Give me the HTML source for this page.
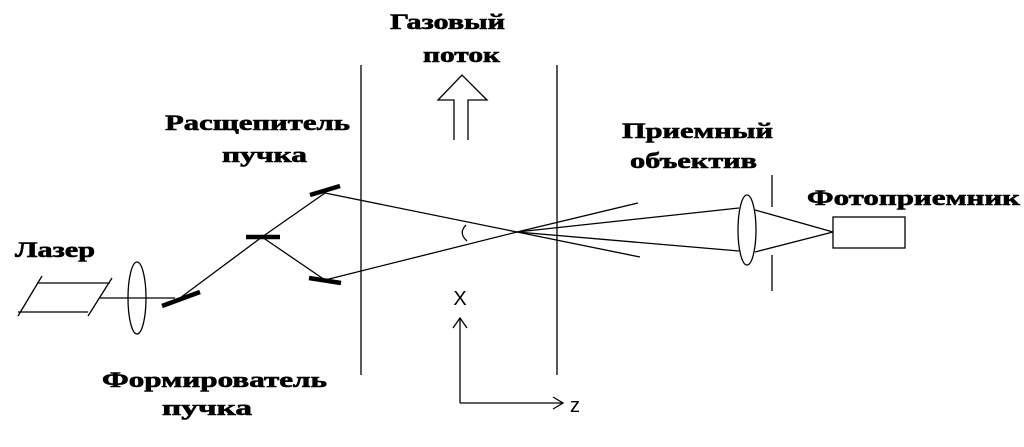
<!DOCTYPE html>
<html><head><meta charset="utf-8"><style>
body{margin:0;background:#fff;width:1024px;height:447px;overflow:hidden}
svg{position:absolute;left:0;top:0}
text.b{font-family:"Liberation Serif","Noto Serif CJK SC",serif;font-weight:bold;font-size:22px;fill:#000;stroke:#000;stroke-width:0.6}
text.s{font-family:"Liberation Sans",sans-serif;font-size:20px;fill:#000}
</style></head><body>
<svg width="1024" height="447" viewBox="0 0 1024 447">
<g stroke="#000" stroke-width="1.3" fill="none">
<line x1="37" y1="283" x2="110" y2="283"/>
<line x1="18" y1="312" x2="88" y2="312"/>
<line x1="42" y1="276" x2="18" y2="316"/>
<line x1="112" y1="278" x2="88" y2="316"/>
<line x1="100" y1="298" x2="175" y2="298"/>
<ellipse cx="137" cy="298" rx="9" ry="36"/>
<line x1="180" y1="298" x2="262" y2="237"/>
<line x1="262" y1="237" x2="325" y2="193"/>
<line x1="262" y1="237" x2="325" y2="280"/>
<line x1="325" y1="193" x2="517" y2="232"/>
<line x1="325" y1="280" x2="517" y2="232"/>
<line x1="517" y1="232" x2="638" y2="203"/>
<line x1="517" y1="232" x2="640" y2="257"/>
<line x1="517" y1="232" x2="739" y2="208"/>
<line x1="517" y1="232" x2="739" y2="251"/>
<path d="M466 225 Q458 233 467 241"/>
<line x1="361" y1="65" x2="361" y2="375"/>
<line x1="557" y1="65" x2="557" y2="375"/>
<ellipse cx="747" cy="230" rx="9" ry="35"/>
<line x1="755" y1="210" x2="833" y2="232"/>
<line x1="755" y1="252" x2="833" y2="232"/>
<rect x="833" y="217" width="72" height="31"/>
<line x1="772" y1="175" x2="772" y2="207"/>
<line x1="772" y1="255" x2="772" y2="291"/>
<path d="M454 140 L454 100 L438 100 L462 75 L487 100 L468 100 L468 140"/>
<line x1="460" y1="318" x2="460" y2="403"/>
<line x1="460" y1="403" x2="563" y2="403"/>
<path d="M453 328 L460 318 L467 328"/>
<path d="M553 397 L563 403 L553 409"/>
</g>
<g stroke="#000" stroke-width="4.5">
<line x1="162" y1="306" x2="200" y2="292"/>
<line x1="246" y1="237" x2="280" y2="237"/>
<line x1="310" y1="195" x2="340" y2="186"/>
<line x1="309" y1="278" x2="341" y2="283"/>
</g>
<text class="b" x="390" y="29" textLength="115" lengthAdjust="spacingAndGlyphs">Газовый</text>
<text class="b" x="423" y="62" textLength="77" lengthAdjust="spacingAndGlyphs">поток</text>
<text class="b" x="165" y="130" textLength="185" lengthAdjust="spacingAndGlyphs">Расщепитель</text>
<text class="b" x="222" y="162" textLength="85" lengthAdjust="spacingAndGlyphs">пучка</text>
<text class="b" x="622" y="138" textLength="151" lengthAdjust="spacingAndGlyphs">Приемный</text>
<text class="b" x="630" y="168" textLength="127" lengthAdjust="spacingAndGlyphs">объектив</text>
<text class="b" x="807" y="205" textLength="213" lengthAdjust="spacingAndGlyphs">Фотоприемник</text>
<text class="b" x="15" y="257" textLength="80" lengthAdjust="spacingAndGlyphs">Лазер</text>
<text class="b" x="102" y="387" textLength="225" lengthAdjust="spacingAndGlyphs">Формирователь</text>
<text class="b" x="162" y="415" textLength="90" lengthAdjust="spacingAndGlyphs">пучка</text>
<text class="s" x="460" y="305" text-anchor="middle">X</text>
<text class="s" x="575" y="412" text-anchor="middle">z</text>
</svg>
</body></html>
